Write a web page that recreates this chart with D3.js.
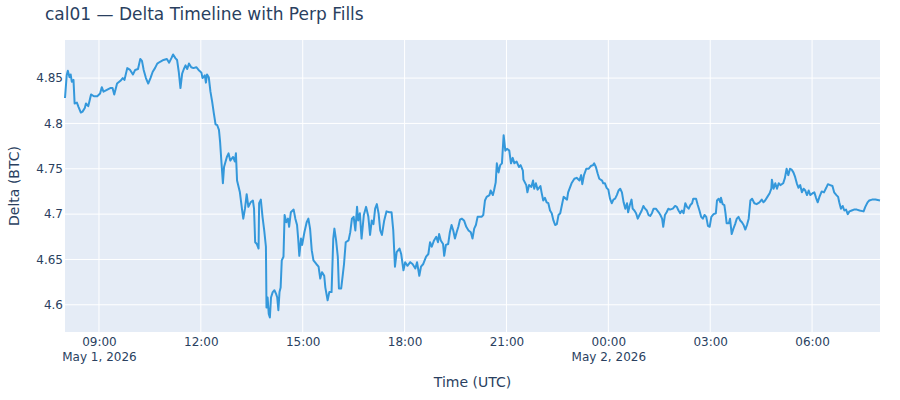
<!DOCTYPE html>
<html>
<head>
<meta charset="utf-8">
<script src="https://cdn.jsdelivr.net/npm/d3@7"></script>
<style>
  body { margin: 0; background: #fff; }
  svg { display: block; }
  svg text { font-family: "DejaVu Sans", Verdana, sans-serif; }
</style>
</head>
<body>
<svg id="chart" width="900" height="400"></svg>
<script>
// delta readings, May 1 (UTC)
const may1Times = [
  "08:00","08:03","08:05","08:08","08:10","08:12","08:15","08:17","08:21","08:24",
  "08:28","08:31","08:35","08:37","08:41","08:43","08:46","08:51","08:57","09:02",
  "09:05","09:08","09:14","09:20","09:24","09:27","09:32","09:38","09:42","09:45",
  "09:50","09:55","10:00","10:04","10:09","10:13","10:16","10:19","10:23","10:27",
  "10:31","10:35","10:39","10:43","10:48","10:54","11:00","11:04","11:08","11:11",
  "11:15","11:18","11:21","11:24","11:27","11:30","11:33","11:36","11:39","11:43",
  "11:47","11:52","11:56","12:01","12:03","12:07","12:09","12:11","12:14","12:17",
  "12:20","12:23","12:26","12:29","12:32","12:34","12:36","12:39","12:41","12:46",
  "12:49","12:52","12:57","13:00","13:02","13:04","13:09","13:13","13:15","13:18",
  "13:21","13:24","13:28","13:32","13:34","13:36","13:39","13:42","13:43","13:46",
  "13:49","13:52","13:55","13:56","13:58","14:00","14:02","14:04","14:07","14:10",
  "14:13","14:15","14:17","14:19","14:21","14:23","14:26","14:28","14:31","14:34",
  "14:36","14:39","14:44","14:47","14:50","14:52","14:54","14:57","14:59","15:03",
  "15:07","15:10","15:13","15:16","15:19","15:24","15:28","15:31","15:34","15:38",
  "15:40","15:44","15:47","15:51","15:54","15:56","15:59","16:02","16:04","16:08",
  "16:11","16:13","16:16","16:21","16:24","16:27","16:30","16:33","16:36","16:38",
  "16:41","16:44","16:48","16:52","16:56","16:59","17:02","17:05","17:08","17:11",
  "17:14","17:17","17:20","17:24","17:28","17:33","17:37","17:40","17:43","17:46",
  "17:51","17:54","17:58","18:01","18:05","18:10","18:14","18:19","18:22","18:26",
  "18:29","18:33","18:38","18:42","18:45","18:48","18:52","18:56","18:59","19:01",
  "19:04","19:08","19:10","19:13","19:17","19:20","19:23","19:26","19:29","19:32",
  "19:35","19:38","19:41","19:45","19:49","19:53","19:57","20:00","20:03","20:06",
  "20:09","20:16","20:19","20:22","20:25","20:30","20:32","20:36","20:38","20:41",
  "20:43","20:46","20:49","20:52","20:55","20:58","21:01","21:05","21:08","21:11",
  "21:14","21:18","21:22","21:25","21:29","21:30","21:35","21:37","21:40","21:44",
  "21:47","21:49","21:52","21:55","22:00","22:02","22:05","22:08","22:11","22:14",
  "22:17","22:20","22:23","22:26","22:29","22:32","22:35","22:38","22:41","22:47",
  "22:49","22:52","22:55","23:00","23:04","23:09","23:12","23:14","23:17","23:21",
  "23:25","23:29","23:33","23:35","23:38","23:41","23:44","23:49","23:51","23:54",
  "23:57"
]
const may1Delta = [
  4.828,4.853,4.858,4.851,4.854,4.846,4.848,4.822,4.823,4.818,
  4.812,4.813,4.817,4.822,4.819,4.824,4.832,4.830,4.830,4.833,
  4.840,4.835,4.837,4.839,4.839,4.832,4.844,4.847,4.850,4.848,
  4.861,4.859,4.854,4.859,4.860,4.871,4.869,4.859,4.850,4.844,
  4.850,4.857,4.861,4.866,4.868,4.870,4.871,4.867,4.872,4.876,
  4.872,4.870,4.857,4.839,4.855,4.860,4.864,4.860,4.866,4.862,
  4.861,4.862,4.859,4.856,4.850,4.853,4.845,4.854,4.851,4.835,
  4.824,4.811,4.799,4.798,4.793,4.780,4.761,4.734,4.752,4.763,
  4.767,4.759,4.763,4.758,4.767,4.737,4.724,4.704,4.695,4.706,
  4.722,4.708,4.713,4.715,4.706,4.669,4.667,4.662,4.712,4.716,
  4.697,4.682,4.664,4.597,4.608,4.590,4.586,4.608,4.614,4.616,
  4.612,4.608,4.594,4.614,4.619,4.649,4.653,4.699,4.691,4.695,
  4.686,4.702,4.705,4.695,4.688,4.673,4.654,4.673,4.666,4.680,
  4.691,4.695,4.684,4.660,4.649,4.645,4.642,4.629,4.636,4.632,
  4.619,4.605,4.614,4.614,4.673,4.684,4.671,4.653,4.618,4.618,
  4.634,4.645,4.669,4.671,4.680,4.695,4.697,4.682,4.708,4.693,
  4.701,4.673,4.699,4.708,4.697,4.677,4.693,4.689,4.706,4.711,
  4.701,4.682,4.677,4.693,4.703,4.702,4.702,4.682,4.642,4.658,
  4.662,4.656,4.638,4.647,4.643,4.647,4.645,4.640,4.647,4.632,
  4.642,4.645,4.653,4.656,4.669,4.664,4.671,4.675,4.669,4.678,
  4.671,4.667,4.654,4.666,4.667,4.680,4.688,4.682,4.673,4.680,
  4.686,4.694,4.695,4.693,4.686,4.682,4.680,4.673,4.684,4.688,
  4.697,4.697,4.699,4.715,4.719,4.721,4.726,4.721,4.726,4.735,
  4.756,4.746,4.754,4.756,4.787,4.770,4.772,4.770,4.756,4.762,
  4.756,4.758,4.752,4.754,4.748,4.738,4.732,4.724,4.732,4.730,
  4.737,4.728,4.734,4.727,4.731,4.724,4.715,4.718,4.713,4.712,
  4.704,4.701,4.693,4.688,4.689,4.699,4.701,4.710,4.719,4.716,
  4.724,4.729,4.734,4.739,4.740,4.737,4.743,4.733,4.743,4.750,
  4.750,4.753,4.754,4.756,4.752,4.745,4.739,4.737,4.734,4.734,
  4.729
]
// delta readings, May 2 (UTC)
const may2Times = [
  "00:00","00:03","00:06","00:09","00:12","00:15","00:18","00:21","00:24","00:27",
  "00:30","00:33","00:35","00:38","00:41","00:43","00:46","00:49","00:52","00:55",
  "00:59","01:02","01:05","01:08","01:11","01:14","01:17","01:20","01:24","01:29",
  "01:32","01:35","01:37","01:40","01:43","01:46","01:49","01:54","01:58","02:01",
  "02:04","02:07","02:10","02:13","02:16","02:19","02:22","02:25","02:28","02:30",
  "02:35","02:38","02:41","02:44","02:47","02:50","02:53","02:56","02:59","03:02",
  "03:06","03:10","03:12","03:15","03:18","03:19","03:22","03:25","03:27","03:29",
  "03:33","03:35","03:38","03:41","03:44","03:47","03:50","03:53","03:56","03:59",
  "04:02","04:05","04:08","04:11","04:14","04:18","04:22","04:27","04:31","04:34",
  "04:37","04:41","04:45","04:48","04:49","04:52","04:55","04:58","05:01","05:04",
  "05:09","05:12","05:15","05:18","05:21","05:24","05:27","05:30","05:33","05:36",
  "05:39","05:42","05:45","05:48","05:51","05:54","05:57","06:01","06:04","06:07",
  "06:10","06:13","06:17","06:21","06:25","06:28","06:32","06:36","06:39","06:43",
  "06:46","06:48","06:51","06:54","06:57","07:00","07:03","07:06","07:10","07:14",
  "07:19","07:24","07:31","07:34","07:38","07:41","07:46","07:52","08:00"
]
const may2Delta = [
  4.727,4.717,4.712,4.716,4.717,4.721,4.726,4.728,4.724,4.713,
  4.706,4.712,4.702,4.710,4.716,4.706,4.704,4.701,4.695,4.699,
  4.704,4.709,4.706,4.704,4.699,4.698,4.701,4.706,4.706,4.702,
  4.699,4.695,4.686,4.699,4.702,4.706,4.705,4.706,4.709,4.708,
  4.704,4.701,4.704,4.701,4.712,4.708,4.706,4.710,4.712,4.717,
  4.717,4.710,4.704,4.697,4.695,4.699,4.697,4.687,4.686,4.697,
  4.700,4.701,4.715,4.717,4.713,4.718,4.711,4.710,4.701,4.690,
  4.690,4.695,4.678,4.684,4.689,4.695,4.697,4.693,4.691,4.688,
  4.683,4.688,4.695,4.715,4.717,4.712,4.711,4.713,4.716,4.713,
  4.715,4.719,4.723,4.728,4.738,4.728,4.734,4.728,4.734,4.732,
  4.734,4.740,4.750,4.743,4.750,4.749,4.746,4.741,4.734,4.729,
  4.732,4.724,4.728,4.726,4.721,4.726,4.721,4.723,4.724,4.718,
  4.713,4.719,4.725,4.724,4.729,4.733,4.732,4.731,4.724,4.721,
  4.719,4.713,4.706,4.709,4.704,4.705,4.700,4.703,4.704,4.705,
  4.705,4.704,4.703,4.708,4.713,4.715,4.716,4.716,4.715
]
const yTicks = [4.6, 4.65, 4.7, 4.75, 4.8, 4.85]
const yRange = [4.570, 4.892]
const timeRange = ["2026-05-01T08:00", "2026-05-02T08:00"]

const dims = { width: 900, height: 400, left: 65, right: 20, top: 40, bottom: 68 }
const textColor = "#2a3f5f"

let parse = d3.utcParse("%Y-%m-%dT%H:%M")
let data = []
may1Times.forEach((t, i) => data.push({ time: parse("2026-05-01T" + t), delta: may1Delta[i] }))
may2Times.forEach((t, i) => data.push({ time: parse("2026-05-02T" + t), delta: may2Delta[i] }))

let svg = d3.select("#chart")
let w = dims.width - dims.left - dims.right
let h = dims.height - dims.top - dims.bottom

let x = d3.scaleUtc().domain(timeRange.map(parse)).range([0, w])
let y = d3.scaleLinear().domain(yRange).range([h, 0])

let g = svg.append("g").attr("transform", `translate(${dims.left},${dims.top})`)

// plot background
g.append("rect").attr("width", w).attr("height", h).attr("fill", "#E5ECF6")

let xTicks = x.ticks(d3.utcHour.every(3))

// grid
g.append("g").selectAll("line").data(xTicks).join("line")
  .attr("x1", d => x(d)).attr("x2", d => x(d))
  .attr("y1", 0).attr("y2", h)
  .attr("stroke", "#fff").attr("stroke-width", 1)
g.append("g").selectAll("line").data(yTicks).join("line")
  .attr("x1", 0).attr("x2", w)
  .attr("y1", d => y(d)).attr("y2", d => y(d))
  .attr("stroke", "#fff").attr("stroke-width", 1)

// axes
let fmtHour = d3.utcFormat("%H:%M")
let fmtDay = d3.utcFormat("%b %-d, %Y")
let axisx = d3.axisBottom(x).tickValues(xTicks).tickSize(0).tickFormat(fmtHour)
let gx = g.append("g").attr("transform", `translate(0,${h})`).call(axisx)
gx.attr("font-family", null).attr("font-size", null)
gx.select(".domain").remove()
gx.selectAll("text")
  .attr("y", null)
  .attr("dy", null)
  .attr("fill", textColor)
  .style("font-size", "12px")
  .each(function (d, i) {
    let t = d3.select(this)
    t.text(null)
    t.append("tspan").attr("x", 0).attr("y", 14).text(fmtHour(d))
    if (i === 0 || d.getUTCHours() === 0) {
      t.append("tspan").attr("x", 0).attr("y", 29).text(fmtDay(d))
    }
  })

let axisy = d3.axisLeft(y).tickValues(yTicks).tickSize(0).tickPadding(2).tickFormat(d3.format(""))
let gy = g.append("g").call(axisy)
gy.attr("font-family", null).attr("font-size", null)
gy.select(".domain").remove()
gy.selectAll("text").attr("fill", textColor).style("font-size", "12px")

// delta line
let line = d3.line()
  .x(d => x(d.time))
  .y(d => y(d.delta))
g.append("path").datum(data)
  .attr("d", line)
  .attr("fill", "none")
  .attr("stroke", "#3498db")
  .attr("stroke-width", 2)
  .attr("stroke-linejoin", "round")

// titles
svg.append("text")
  .attr("x", 45).attr("y", 20)
  .attr("fill", textColor)
  .style("font-size", "17px")
  .text("cal01 \u2014 Delta Timeline with Perp Fills")

svg.append("text")
  .attr("x", dims.left + w / 2).attr("y", 387)
  .attr("text-anchor", "middle")
  .attr("fill", textColor)
  .style("font-size", "14px")
  .text("Time (UTC)")

svg.append("text")
  .attr("transform", `translate(19,${dims.top + h / 2}) rotate(-90)`)
  .attr("text-anchor", "middle")
  .attr("fill", textColor)
  .style("font-size", "14px")
  .text("Delta (BTC)")
</script>
</body>
</html>
